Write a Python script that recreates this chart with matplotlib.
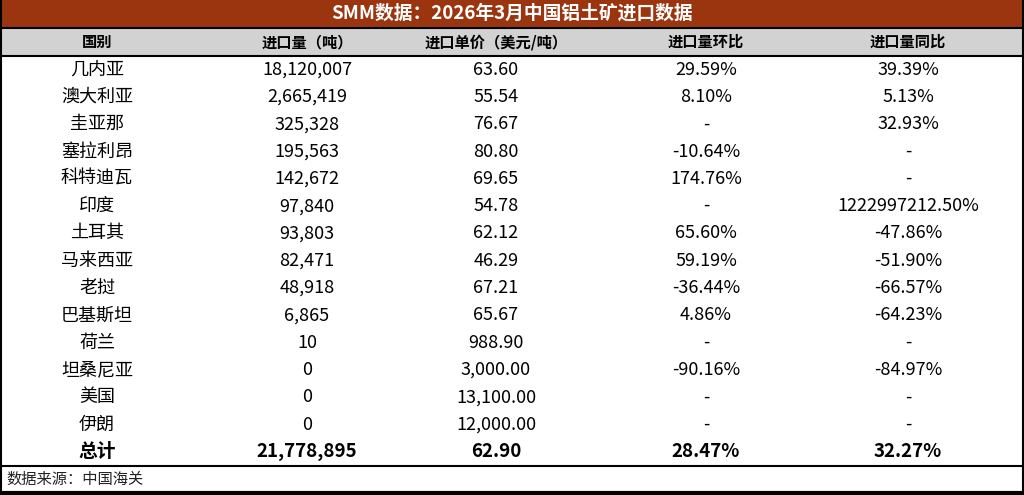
import matplotlib
matplotlib.use("Agg")
import matplotlib.pyplot as plt
from matplotlib.patches import Rectangle

plt.rcParams['font.family'] = ['Noto Sans CJK SC', 'DejaVu Sans']

title = "SMM数据：2026年3月中国铝土矿进口数据"
headers = ["国别", "进口量（吨）", "进口单价（美元/吨）", "进口量环比", "进口量同比"]
countries = ["几内亚", "澳大利亚", "圭亚那", "塞拉利昂", "科特迪瓦", "印度", "土耳其", "马来西亚",
             "老挝", "巴基斯坦", "荷兰", "坦桑尼亚", "美国", "伊朗", "总计"]
volumes = ["18,120,007", "2,665,419", "325,328", "195,563", "142,672", "97,840", "93,803", "82,471",
           "48,918", "6,865", "10", "0", "0", "0", "21,778,895"]
prices = ["63.60", "55.54", "76.67", "80.80", "69.65", "54.78", "62.12", "46.29", "67.21", "65.67",
          "988.90", "3,000.00", "13,100.00", "12,000.00", "62.90"]
mom = ["29.59%", "8.10%", "-", "-10.64%", "174.76%", "-", "65.60%", "59.19%", "-36.44%", "4.86%",
       "-", "-90.16%", "-", "-", "28.47%"]
yoy = ["39.39%", "5.13%", "32.93%", "-", "-", "1222997212.50%", "-47.86%", "-51.90%", "-66.57%",
       "-64.23%", "-", "-84.97%", "-", "-", "32.27%"]
source = "数据来源：中国海关"

W, H = 1024, 495
fig = plt.figure(figsize=(W/100, H/100), dpi=100)
ax = fig.add_axes([0, 0, 1, 1])
ax.set_xlim(0, W); ax.set_ylim(H, 0); ax.axis('off')

ax.add_patch(Rectangle((0, 0), W, 27, color='#9B3510'))
ax.text(W/2, 13.5, title, ha='center', va='center', color='white', fontsize=13.5, fontweight='bold')
ax.add_patch(Rectangle((0, 28), W, 27, color='#D2D2D2'))
cx = [97, 307, 496, 706, 908]
for x, h in zip(cx, headers):
    ax.text(x, 42, h, ha='center', va='center', fontsize=11, fontweight='bold')
top, rh = 56, 27.3
cols = [countries, volumes, prices, mom, yoy]
for i in range(len(countries)):
    y = top + rh * (i + 0.5)
    bold = (i == len(countries) - 1)
    for x, col in zip(cx, cols):
        ax.text(x, y, col[i], ha='center', va='center', fontsize=13 if not bold else 13.5,
                fontweight='bold' if bold else 'normal')

for y, lw in [(27.5, 1.5), (55.5, 1.5), (465.5, 1.5), (493, 3)]:
    ax.plot([0, W], [y, y], color='black', lw=lw)
ax.plot([0.7, 0.7], [0, 494], color='black', lw=1.5)
ax.plot([W-0.7, W-0.7], [0, 494], color='black', lw=1.5)
ax.text(6, 479, source, ha='left', va='center', fontsize=11, style='italic', color='#222222')
fig.savefig("out.png", dpi=100)
